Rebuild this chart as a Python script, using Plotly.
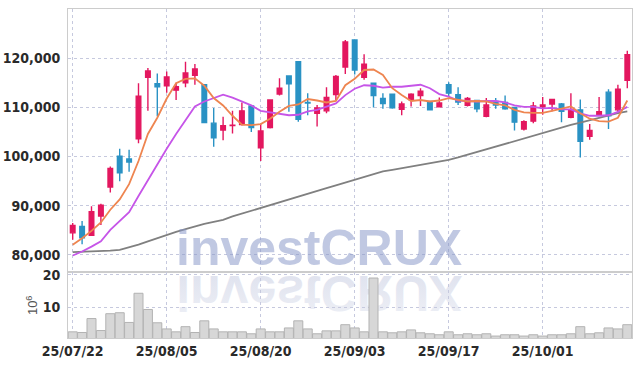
import base64
import plotly.graph_objects as go
from plotly.subplots import make_subplots

# ---------------- data ----------------
dates = [
    "25/07/22", "25/07/23", "25/07/24", "25/07/25", "25/07/28", "25/07/29", "25/07/30", "25/07/31",
    "25/08/01", "25/08/04", "25/08/05", "25/08/06", "25/08/07", "25/08/08", "25/08/11", "25/08/12",
    "25/08/13", "25/08/14", "25/08/18", "25/08/19", "25/08/20", "25/08/21", "25/08/22", "25/08/25",
    "25/08/26", "25/08/27", "25/08/28", "25/08/29", "25/09/01", "25/09/02", "25/09/03", "25/09/04",
    "25/09/05", "25/09/08", "25/09/09", "25/09/10", "25/09/11", "25/09/12", "25/09/15", "25/09/16",
    "25/09/17", "25/09/18", "25/09/19", "25/09/22", "25/09/23", "25/09/24", "25/09/25", "25/09/26",
    "25/09/29", "25/09/30", "25/10/01", "25/10/02", "25/10/10", "25/10/13", "25/10/14", "25/10/15",
    "25/10/16", "25/10/17", "25/10/20", "25/10/21",
]

open_ = [84500, 85800, 84000, 87900, 93800, 100100, 99500, 103600, 116100, 114800,
         114400, 113500, 115000, 116500, 114600, 106800, 105400, 106300, 106500, 110300,
         101800, 105900, 112700, 116400, 119300, 111000, 108800, 109300, 112600, 118200,
         123700, 116100, 114900, 111800, 112700, 109600, 111600, 112400, 111200, 110100,
         114600, 112600, 110400, 111400, 108200, 111200, 111000, 110000, 105600, 107200,
         110100, 110700, 110700, 108000, 109500, 104100, 108500, 113100, 109500, 115500]
high = [86500, 86900, 89900, 90400, 98000, 101600, 101400, 114900, 118000, 116900,
        117300, 115000, 119300, 118800, 114700, 109900, 108100, 109300, 111000, 110400,
        106700, 111600, 115900, 116500, 119400, 112900, 110500, 114100, 116600, 123700,
        123800, 120800, 115000, 112900, 112800, 111200, 112900, 113900, 111300, 112000,
        115100, 114100, 112100, 111400, 111900, 111900, 112400, 110100, 107400, 111100,
        112100, 111600, 110900, 112900, 111600, 106600, 112100, 113700, 114600, 121500]
low = [83100, 82200, 83900, 86100, 92700, 95000, 96900, 102700, 109300, 108200,
       113000, 111500, 114100, 114600, 106800, 102000, 103300, 104700, 106300, 105000,
       99100, 105700, 112400, 109100, 107100, 108400, 106100, 108800, 111500, 116800,
       116700, 115600, 110000, 109700, 109700, 108400, 110200, 110300, 109400, 110000,
       112200, 110500, 110200, 109000, 108000, 109700, 109500, 105300, 105300, 106800,
       108500, 109200, 107000, 107800, 99800, 103400, 108400, 105600, 108900, 113900]
close = [86000, 83500, 88800, 90100, 97600, 96700, 98900, 112300, 117400, 114200,
         116200, 114200, 117000, 117800, 106900, 103800, 106300, 106400, 109300, 105900,
         105200, 111500, 113900, 114800, 107600, 110900, 109900, 112000, 116300, 123300,
         117600, 118800, 112400, 110800, 109900, 110700, 112700, 113300, 109500, 110900,
         112900, 111100, 111800, 109700, 110500, 110500, 109700, 107000, 107100, 110300,
         110500, 111600, 109200, 109500, 103100, 105300, 109100, 108300, 113700, 120700]

ma5 = [82100, 83400, 84900, 86600, 89200, 91300, 94400, 99100, 104600, 107900,
       111800, 114900, 115800, 115900, 114400, 111900, 110400, 108300, 106500, 106400,
       106600, 107700, 109100, 110300, 110600, 111700, 111400, 111000, 111300, 114500,
       115800, 117600, 117700, 116600, 113900, 112500, 111300, 111500, 111200, 111400,
       111900, 111500, 111200, 111300, 111200, 110700, 110400, 109500, 109000, 108900,
       108900, 109300, 109700, 110200, 108800, 107700, 107200, 107100, 107900, 111400]
ma10 = [79900, 80700, 81700, 82800, 85100, 86800, 88700, 92000, 95200, 98500,
        101600, 104600, 107400, 110200, 111200, 111900, 112600, 112000, 111200, 110400,
        109300, 109000, 108700, 108400, 108500, 109200, 109500, 110100, 110800, 112500,
        113800, 114500, 114400, 114000, 114200, 114200, 114400, 114600, 113900, 112700,
        112200, 111400, 111300, 111200, 111300, 111300, 111000, 110400, 110100, 110100,
        109800, 109900, 109600, 109600, 108800, 108300, 108300, 108400, 109100, 110100]
ma_long = [80600, 80650, 80700, 80780, 80870, 81050, 81500, 82100, 82780, 83460,
           84140, 84710, 85240, 85830, 86330, 86730, 87130, 87830, 88420, 89000,
           89570, 90140, 90710, 91280, 91850, 92430, 93000, 93570, 94130, 94690,
           95250, 95830, 96430, 97000, 97300, 97640, 97950, 98250, 98580, 98950,
           99350, 99830, 100380, 100920, 101460, 102030, 102610, 103180, 103760, 104330,
           104900, 105470, 105950, 106430, 106910, 107400, 107880, 108360, 108850, 109200]

volume = [2.4, 2.2, 6.5, 2.8, 8.0, 8.3, 5.3, 14.3, 9.3, 5.2,
          3.3, 2.4, 4.0, 2.2, 5.8, 3.3, 2.4, 2.4, 2.4, 1.8,
          3.3, 2.4, 2.4, 3.6, 5.8, 3.3, 1.8, 2.7, 2.7, 4.6,
          3.6, 2.4, 19.0, 2.4, 2.1, 2.4, 3.0, 2.1, 1.8, 1.5,
          2.4, 1.5, 1.8, 1.5, 1.8, 1.1, 1.5, 1.5, 1.1, 1.5,
          1.1, 1.5, 1.5, 1.8, 4.0, 1.8, 2.1, 3.6, 3.3, 4.6]

price_ticks = [80000, 90000, 100000, 110000, 120000]
volume_ticks = [10, 20]
date_ticks = ["25/07/22", "25/08/05", "25/08/20", "25/09/03", "25/09/17", "25/10/01"]
volume_unit = "10<sup>6</sup>"
watermark = "investCRUX"

# ---------------- styles ----------------
UP = "#e3175f"
DOWN = "#2a92c4"
GRID = "#c6c9de"
AXLINE = "#cccccc"
TICK_FONT = dict(family="DejaVu Sans Condensed, Liberation Sans Narrow, Liberation Sans, sans-serif",
                 size=14, color="#2a2a2a", weight="bold")

fig = make_subplots(rows=2, cols=1, shared_xaxes=True, vertical_spacing=0,
                    row_heights=[0.8, 0.2])

fig.add_trace(go.Candlestick(
    x=dates, open=open_, high=high, low=low, close=close,
    increasing=dict(line=dict(color=UP, width=1.4), fillcolor=UP),
    decreasing=dict(line=dict(color=DOWN, width=1.4), fillcolor=DOWN),
    whiskerwidth=0, showlegend=False, hoverinfo="skip"), row=1, col=1)

for vals, color in [(ma_long, "#808080"), (ma10, "#c655e8"), (ma5, "#ee8550")]:
    fig.add_trace(go.Scatter(x=dates, y=vals, mode="lines",
                             line=dict(color=color, width=1.8),
                             showlegend=False, hoverinfo="skip"), row=1, col=1)

fig.add_trace(go.Bar(x=dates, y=volume,
                     marker=dict(color="#d7d7d7", line=dict(color="#b3b3b3", width=1)),
                     showlegend=False, hoverinfo="skip"), row=2, col=1)

fig.update_layout(width=642, height=366,
                  margin=dict(l=68, r=10, t=9, b=28, autoexpand=False),
                  paper_bgcolor="white", plot_bgcolor="rgba(0,0,0,0)",
                  bargap=0.04, showlegend=False)

fig.update_xaxes(type="category", range=[-0.5, 59.5], tickvals=date_ticks, ticktext=date_ticks,
                 showgrid=True, gridcolor=GRID, griddash="dot", gridwidth=1,
                 showline=True, linecolor=AXLINE, linewidth=1, mirror=True,
                 ticks="", tickangle=0, tickfont=TICK_FONT, automargin=False,
                 rangeslider_visible=False)
fig.update_yaxes(showgrid=True, gridcolor=GRID, griddash="dot", gridwidth=1,
                 showline=True, linecolor=AXLINE, linewidth=1, mirror=True,
                 ticks="", zeroline=False, tickfont=TICK_FONT, ticklabelstandoff=4,
                 automargin=False)
fig.update_yaxes(range=[76500, 130000], tickvals=price_ticks, tickformat=",d", row=1, col=1)
fig.update_yaxes(range=[0.5, 20.8], tickvals=volume_ticks, row=2, col=1)

PW, PH = 564.0, 329.0

# volume unit label (rotated, left of the volume panel)
fig.add_annotation(text=volume_unit, xref="paper", yref="paper", x=-36 / PW, y=0.1,
                   xanchor="center", yanchor="middle", textangle=-90, showarrow=False,
                   font=dict(family="Liberation Sans, sans-serif", size=13, color="#555555"))

# watermark (real text) + its mirrored reflection
cx = 0.4455
fig.add_annotation(text=watermark, xref="paper", yref="paper", x=cx, y=0.2,
                   xanchor="center", yanchor="bottom", yshift=-4, showarrow=False,
                   borderpad=0, borderwidth=0,
                   font=dict(family="Liberation Sans, sans-serif", size=50,
                             color="rgba(135,150,200,0.52)", weight="bold"))

W, H = 340, 60
svg = (f'<svg xmlns="http://www.w3.org/2000/svg" width="{W}" height="{H}" viewBox="0 0 {W} {H}">'
       '<defs><linearGradient id="g" x1="0" y1="0" x2="0" y2="1">'
       '<stop offset="0" stop-color="#eef0f6"/><stop offset="1" stop-color="#dde0ed"/>'
       '</linearGradient></defs>'
       f'<g transform="scale(1,-1)"><text x="{W/2}" y="-3.5" text-anchor="middle" '
       'font-family="Liberation Sans, sans-serif" font-weight="bold" font-size="50" fill="url(#g)">'
       f'{watermark}</text></g></svg>')
src = "data:image/svg+xml;base64," + base64.b64encode(svg.encode()).decode()
fig.add_layout_image(source=src, xref="paper", yref="paper",
                     x=cx - (W / 2) / PW, y=0.2, sizex=W / PW, sizey=H / PH,
                     xanchor="left", yanchor="top", sizing="stretch", layer="below")

fig.write_html("out.html", config={"displayModeBar": False},
               post_script="document.body.style.margin='0px';")
